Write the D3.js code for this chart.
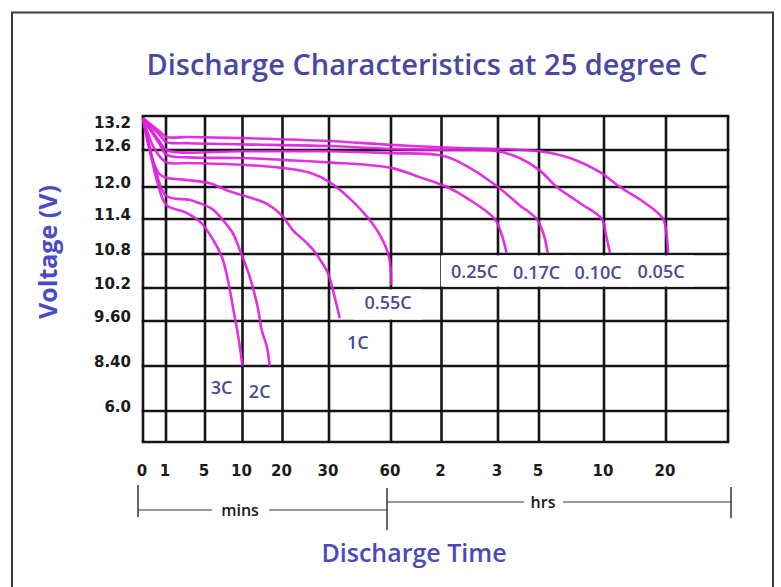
<!DOCTYPE html>
<html>
<head>
<meta charset="utf-8">
<script src="https://cdn.jsdelivr.net/npm/d3@7"></script>
<style>
  html, body { margin: 0; padding: 0; background: #fff; }
  svg { display: block; }
</style>
</head>
<body>
<svg id="chart" width="781" height="587"></svg>
<script>
// axis ticks (grid lines) - voltage is not linear on this chart, so piecewise scales
const voltTicks = [13.2, 12.6, 12.0, 11.4, 10.8, 10.2, 9.6, 8.4, 6.0];
const voltLabels = ['13.2', '12.6', '12.0', '11.4', '10.8', '10.2', '9.60', '8.40', '6.0'];
const voltBottom = 4.8;

const timeTicks = [0, 1, 5, 10, 20, 30, 60, 120, 180, 300, 600, 1200]; // minutes
const timeLabels = ['0', '1', '5', '10', '20', '30', '60', '2', '3', '5', '10', '20'];
const timeEnd = 2400;

const rates = ['0.05C', '0.10C', '0.17C', '0.25C', '0.55C', '1C', '2C', '3C'];

// [minutes, volts]
const c005 = [[0, 13.16], [0.74, 12.92], [1.05, 12.83], [3.36, 12.83], [9.9, 12.81], [29.9, 12.76], [60, 12.69],
  [132, 12.64], [303, 12.58], [442, 12.47], [581, 12.24], [755, 12.0], [998, 11.7], [1173, 11.4], [1210, 11.13], [1239, 10.82]];
const c010 = [[0, 13.16], [0.74, 12.86], [1.05, 12.74], [3.36, 12.72], [9.9, 12.7], [29.9, 12.67], [60, 12.62],
  [132, 12.6], [180, 12.58], [243, 12.47], [303, 12.27], [382, 12.0], [488, 11.7], [590, 11.4], [619, 11.13], [658, 10.82]];
const c017 = [[0, 13.16], [0.74, 12.74], [1.05, 12.6], [9.9, 12.58], [29.9, 12.58], [60, 12.55], [123.5, 12.5],
  [150, 12.31], [180, 12.0], [243, 11.66], [293, 11.4], [322, 11.13], [340, 10.82]];
const c025 = [[0, 13.16], [0.74, 12.69], [1.05, 12.52], [3.36, 12.48], [9.9, 12.47], [19.8, 12.44], [29.9, 12.4],
  [60, 12.31], [94, 12.16], [126, 12.0], [150, 11.76], [176.5, 11.4], [191, 11.13], [205, 10.82]];
const c055 = [[0, 13.16], [0.53, 12.6], [1.05, 12.4], [3.36, 12.39], [9.9, 12.36], [19.8, 12.31], [25.9, 12.23],
  [30.3, 12.08], [43.3, 11.66], [53, 11.22], [58.5, 10.82], [59.8, 10.55], [60.1, 10.25]];
const c1 = [[0, 13.16], [0.4, 12.45], [0.74, 12.2], [1.05, 12.15], [3.36, 12.11], [5.66, 12.06], [7.9, 11.94],
  [10.6, 11.83], [16, 11.69], [19.8, 11.47], [22.3, 11.2], [24.8, 11.02], [26.6, 10.87], [28.4, 10.66],
  [29.8, 10.46], [31.9, 10.16], [33.7, 9.89], [35.2, 9.65]];
const c2 = [[0, 13.16], [0.3, 12.64], [0.6, 12.2], [1.05, 11.83], [3.36, 11.76], [4.38, 11.7], [5.93, 11.59],
  [7.4, 11.38], [8.7, 11.16], [9.64, 10.87], [11.8, 10.4], [13.8, 9.85], [14.8, 9.36], [16.1, 8.91], [16.8, 8.4]];
const c3 = [[0, 13.16], [0.3, 12.6], [0.6, 12.11], [1.05, 11.66], [2.95, 11.53], [4.5, 11.35], [6.1, 11.04],
  [7.3, 10.73], [8.05, 10.34], [8.7, 9.87], [9.4, 9.23], [9.8, 8.7], [10, 8.4]];

const curves = [c005, c010, c017, c025, c055, c1, c2, c3];
// label nudge from curve end, px; and whether the label blanks out the grid cell behind it
const labelNudge = [[-7, 19], [-12, 20], [-11, 20], [-32, 19], [-3, 18], [18, 25], [-10, 26], [-21, 22]];
const labelPatch = [true, true, true, true, true, false, false, false];

const svg = d3.select('#chart');

const x = d3.scaleLinear()
  .domain(timeTicks.concat([timeEnd]))
  .range([143, 166, 205, 242.5, 282.5, 329, 391, 441.5, 498, 539, 604, 666, 728]);

const y = d3.scaleLinear()
  .domain(voltTicks.concat([voltBottom]))
  .range([116, 150, 187, 219, 254, 288, 321, 366, 411, 442]);

const gridVolts = voltTicks.concat([voltBottom]);
const gridY = gridVolts.map(v => y(v));

// outer frame
svg.append('rect')
  .attr('x', 12).attr('y', 12.5)
  .attr('width', 761).attr('height', 600)
  .attr('fill', 'none').attr('stroke', '#3a3a3a').attr('stroke-width', 2);

// title
svg.append('text')
  .attr('x', 427).attr('y', 75)
  .attr('text-anchor', 'middle')
  .style('font-family', 'Open Sans').style('font-weight', 600).style('font-size', '29px')
  .attr('fill', '#4848a0')
  .text('Discharge Characteristics at 25 degree C');

// grid
const grid = svg.append('g').attr('stroke', '#151515').attr('stroke-width', 2.6);
grid.selectAll('.v').data(timeTicks.concat([timeEnd])).join('line')
  .attr('x1', d => x(d)).attr('x2', d => x(d))
  .attr('y1', y(voltTicks[0])).attr('y2', y(voltBottom));
grid.selectAll('.h').data(gridVolts).join('line')
  .attr('y1', d => y(d)).attr('y2', d => y(d))
  .attr('x1', x(0) - 1.3).attr('x2', x(timeEnd) + 1.3);

// curves
const line = d3.line()
  .x(d => x(d[0]))
  .y(d => y(d[1]))
  .curve(d3.curveCatmullRom.alpha(0.5));

svg.append('g').selectAll('path').data(curves).join('path')
  .attr('d', line)
  .attr('fill', 'none')
  .attr('stroke', '#e020e0')
  .attr('stroke-width', 2.6)
  .attr('stroke-linejoin', 'round')
  .attr('opacity', 0.92);

// curve labels
const labels = svg.append('g').selectAll('g').data(rates).join('g');
labels.append('rect').attr('fill', '#fff');
labels.append('text')
  .attr('x', (d, i) => x(curves[i][curves[i].length - 1][0]) + labelNudge[i][0])
  .attr('y', (d, i) => y(curves[i][curves[i].length - 1][1]) + labelNudge[i][1] + 6)
  .attr('text-anchor', 'middle')
  .style('font-family', 'Open Sans').style('font-weight', 600).style('font-size', '18px')
  .attr('fill', '#4a4a98')
  .text(d => d);
labels.each(function (d, i) {
  if (!labelPatch[i]) return;
  const g = d3.select(this);
  const b = g.select('text').node().getBBox();
  const cy = b.y + b.height / 2;
  const top = d3.max(gridY.filter(v => v < cy)) + 1.4;
  const bot = d3.min(gridY.filter(v => v > cy)) - 1.4;
  g.select('rect')
    .attr('x', b.x - 10).attr('width', b.width + 20)
    .attr('y', top).attr('height', bot - top);
});

// y tick labels
svg.append('g').selectAll('text').data(voltTicks).join('text')
  .attr('x', 131)
  .attr('y', (d, i) => (i === 0 ? y(d) + 7 : y(d) - 4) + 5)
  .attr('text-anchor', 'end')
  .style('font-family', 'DejaVu Sans').style('font-weight', 'bold').style('font-size', '15px')
  .attr('fill', '#1a1a1a')
  .text((d, i) => voltLabels[i]);

// x tick labels
svg.append('g').selectAll('text').data(timeTicks).join('text')
  .attr('x', d => x(d) - 1)
  .attr('y', 476)
  .attr('text-anchor', 'middle')
  .style('font-family', 'DejaVu Sans').style('font-weight', 'bold').style('font-size', '15px')
  .attr('fill', '#1a1a1a')
  .text((d, i) => timeLabels[i]);

// y axis title
svg.append('text')
  .attr('transform', 'translate(57,252) rotate(-90)')
  .attr('text-anchor', 'middle')
  .style('font-family', 'Open Sans').style('font-weight', 700).style('font-size', '25px')
  .attr('fill', '#4b4bc4')
  .text('Voltage (V)');

// mins / hrs bracket
const br = svg.append('g').attr('stroke', '#333');
const xl = x(0) - 5, xm = x(60) - 4, xr = x(timeEnd) + 3;
br.append('line').attr('x1', xl).attr('x2', xl).attr('y1', 485).attr('y2', 517).attr('stroke-width', 1.5);
br.append('line').attr('x1', xm).attr('x2', xm).attr('y1', 488).attr('y2', 530).attr('stroke-width', 1.5);
br.append('line').attr('x1', xr).attr('x2', xr).attr('y1', 487).attr('y2', 518).attr('stroke-width', 1.5);
br.append('line').attr('x1', xl).attr('x2', 212).attr('y1', 510).attr('y2', 510).attr('stroke-width', 1);
br.append('line').attr('x1', 269).attr('x2', xm).attr('y1', 510).attr('y2', 510).attr('stroke-width', 1);
br.append('line').attr('x1', xm).attr('x2', 524).attr('y1', 502).attr('y2', 502).attr('stroke-width', 1);
br.append('line').attr('x1', 563).attr('x2', xr).attr('y1', 502).attr('y2', 502).attr('stroke-width', 1);

svg.append('text').attr('x', 240).attr('y', 516).attr('text-anchor', 'middle')
  .style('font-family', 'Open Sans').style('font-weight', 600).style('font-size', '16px')
  .attr('fill', '#1a1a1a').text('mins');
svg.append('text').attr('x', 543).attr('y', 508).attr('text-anchor', 'middle')
  .style('font-family', 'Open Sans').style('font-weight', 600).style('font-size', '16px')
  .attr('fill', '#1a1a1a').text('hrs');

// x axis title
svg.append('text')
  .attr('x', 414).attr('y', 562)
  .attr('text-anchor', 'middle')
  .style('font-family', 'Open Sans').style('font-weight', 600).style('font-size', '25px')
  .attr('fill', '#4a4ab8')
  .text('Discharge Time');
</script>
</body>
</html>
